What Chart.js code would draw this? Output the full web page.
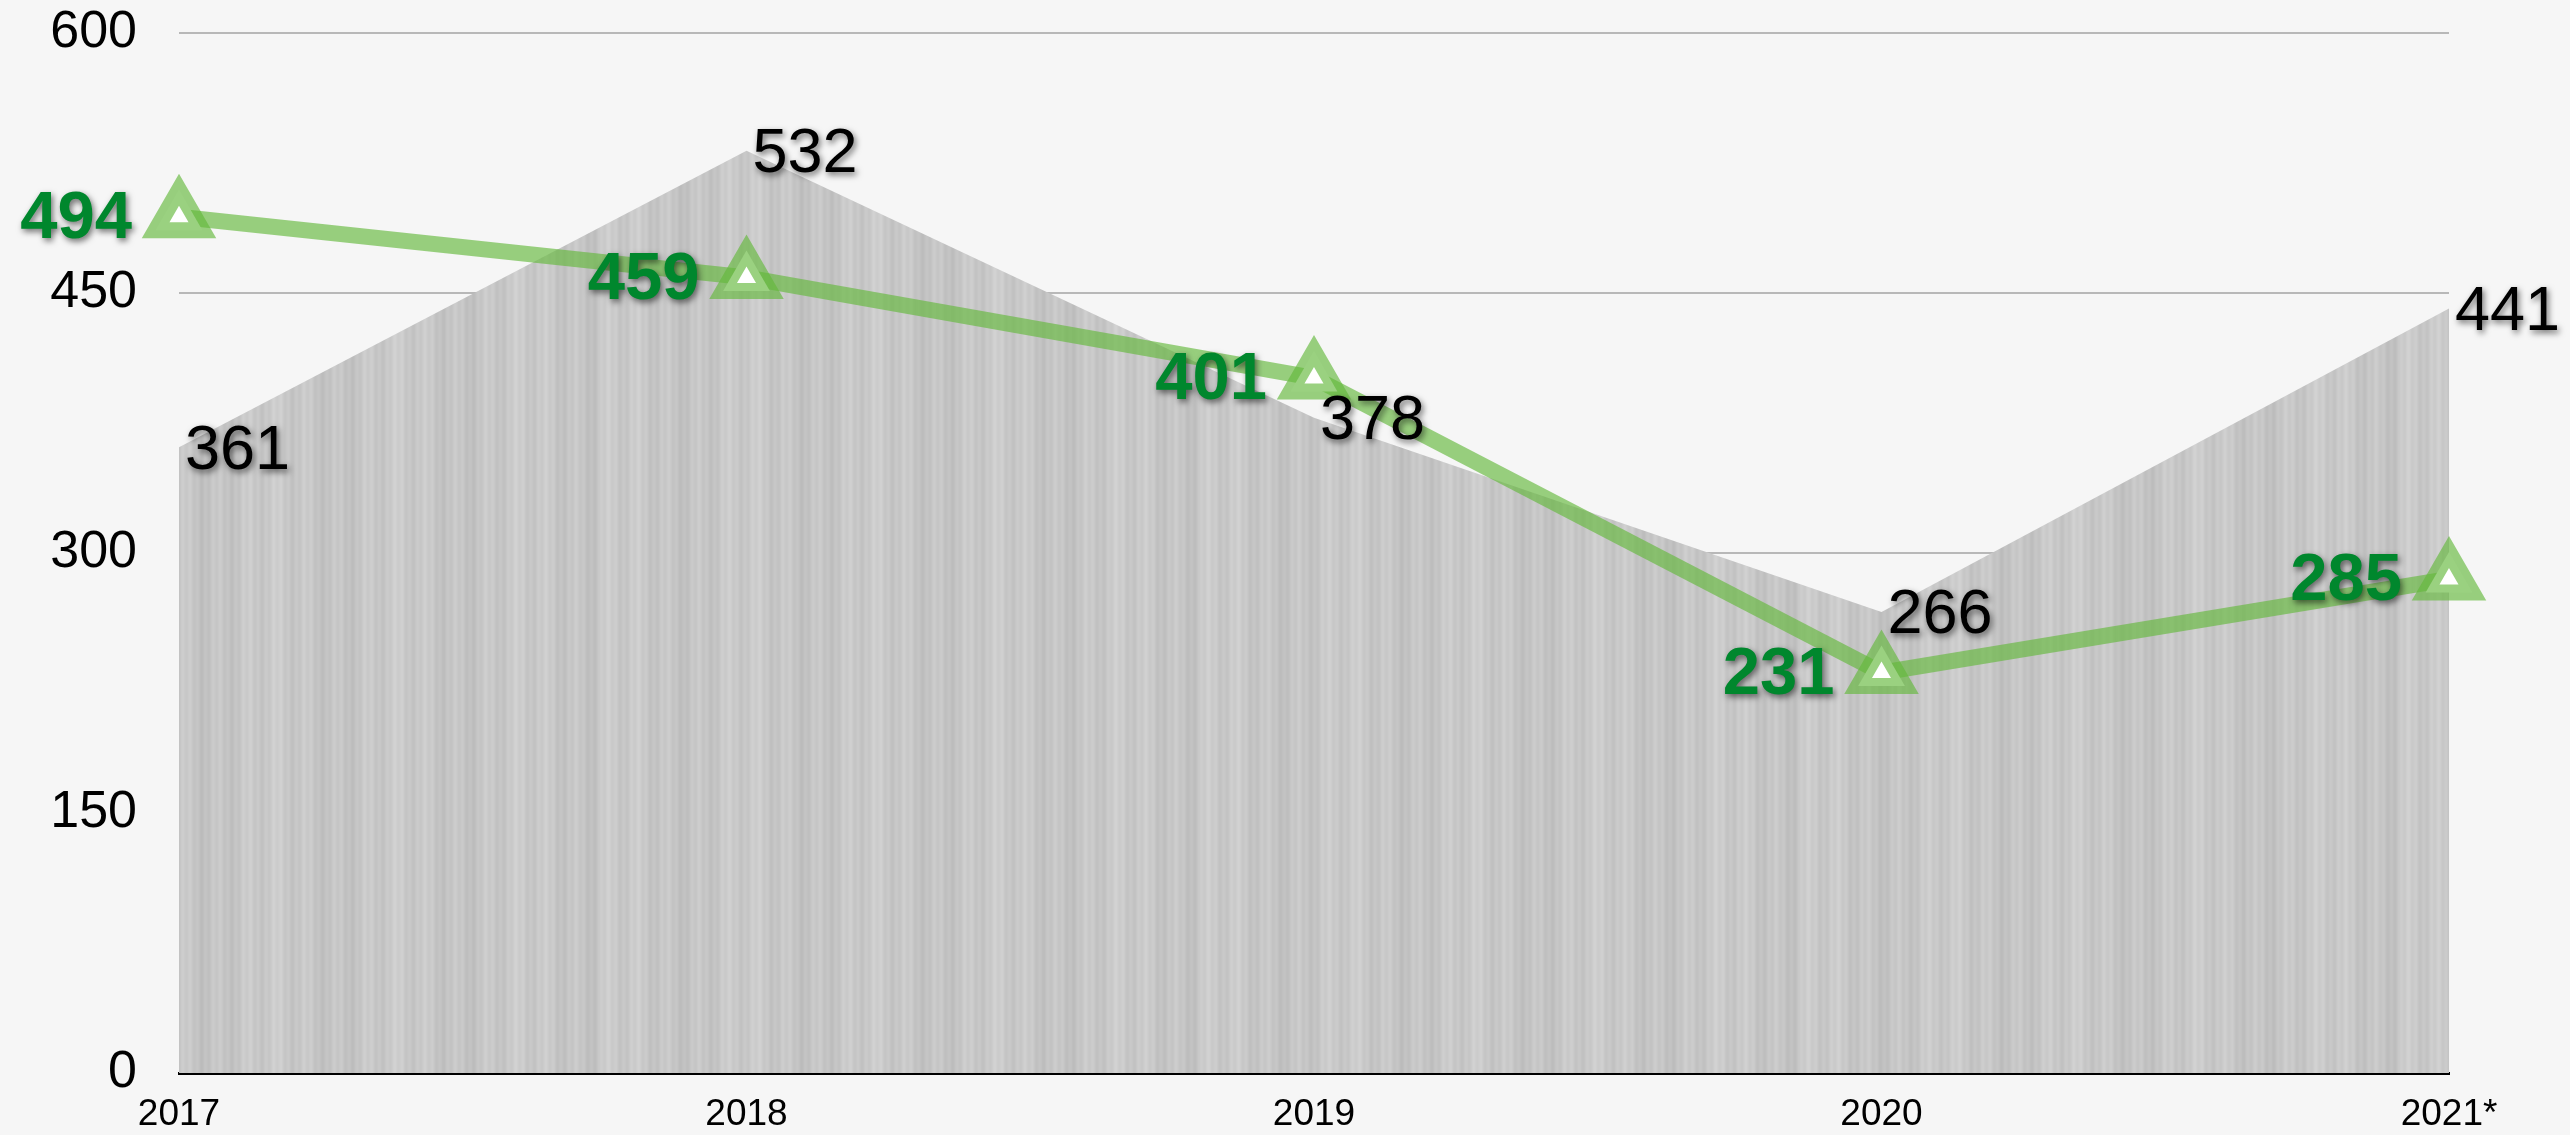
<!DOCTYPE html>
<html>
<head>
<meta charset="utf-8">
<script src="https://cdn.jsdelivr.net/npm/chart.js@4/dist/chart.umd.min.js"></script>
<style>
  body{margin:0;background:#f6f6f6;}
  #wrap{width:2570px;height:1135px;}
</style>
</head>
<body>
<div id="wrap"><canvas id="myCanvas" width="2570" height="1135"></canvas></div>
<script>
const years = ['2017','2018','2019','2020','2021*']
const grayValues = [361,532,378,266,441]
const greenValues = [494,459,401,231,285]
const yTicks = [0,150,300,450,600]

const fontFam = "'Helvetica Neue', Helvetica, 'Liberation Sans', Arial, sans-serif"

// brushed metal look for the area
function makeTexture(ctx){
  const c = document.createElement('canvas')
  c.width = 600
  c.height = 8
  const g = c.getContext('2d')
  for(let x = 0; x < c.width; x++){
    let v = 199 + 5*Math.sin(x*0.21) + 4*Math.sin(x*0.83+1.2) + 3*Math.sin(x*0.05+0.5)
    v = Math.round(v)
    g.fillStyle = `rgb(${v},${v},${v})`
    g.fillRect(x,0,1,c.height)
  }
  return ctx.createPattern(c,'repeat')
}

const labelPlugin = {
  id:'valueLabels',
  afterDatasetsDraw(chart){
    const ctx = chart.ctx
    ctx.save()
    ctx.shadowColor = 'rgba(0,0,0,0.55)'
    ctx.shadowBlur = 6
    ctx.shadowOffsetX = 2
    ctx.shadowOffsetY = 3
    ctx.textBaseline = 'middle'

    const grayMeta = chart.getDatasetMeta(1)
    ctx.font = '63px ' + fontFam
    ctx.fillStyle = '#000'
    ctx.textAlign = 'left'
    grayMeta.data.forEach((pt,i)=>{
      ctx.fillText(String(grayValues[i]), pt.x + 6, pt.y + 4)
    })

    const greenMeta = chart.getDatasetMeta(0)
    ctx.font = 'bold 67px ' + fontFam
    ctx.fillStyle = '#00872d'
    ctx.textAlign = 'right'
    greenMeta.data.forEach((pt,i)=>{
      ctx.fillText(String(greenValues[i]), pt.x - 47, pt.y + 3)
    })
    ctx.restore()
  }
}

const canv = document.getElementById('myCanvas')
const ctx = canv.getContext('2d')

const config = {
  type:'line',
  data:{
    labels:years,
    datasets:[{
      label:'green',
      data:greenValues,
      borderColor:'rgba(100,185,60,0.65)',
      borderWidth:16,
      tension:0,
      fill:false,
      pointStyle:'triangle',
      pointRadius:27,
      pointBorderWidth:16,
      pointBackgroundColor:'#ffffff',
      pointBorderColor:'rgba(100,185,60,0.65)',
      clip:false
    },{
      label:'gray',
      data:grayValues,
      borderWidth:0,
      borderColor:'rgba(0,0,0,0)',
      backgroundColor:makeTexture(ctx),
      fill:'origin',
      tension:0,
      pointRadius:0,
      clip:false
    }]
  },
  options:{
    responsive:false,
    animation:false,
    devicePixelRatio:1,
    layout:{autoPadding:false,padding:{top:33,right:121,left:0,bottom:0}},
    plugins:{legend:{display:false},tooltip:{enabled:false}},
    scales:{
      x:{
        grid:{display:false},
        border:{display:true,color:'#000',width:3},
        ticks:{color:'#000',font:{size:37,family:fontFam},padding:12,maxRotation:0},
        afterFit:(s)=>{
          s.height = 62
          s.paddingLeft = 0
          s.paddingRight = 0
        }
      },
      y:{
        min:0,
        max:600,
        afterBuildTicks:(s)=>{s.ticks = yTicks.map(v=>({value:v}))},
        grid:{color:'#b8b8b8',lineWidth:2,drawTicks:false},
        border:{display:false},
        ticks:{color:'#000',font:{size:52,family:fontFam},padding:42},
        afterFit:(s)=>{
          s.width = 179
          s.paddingTop = 0
          s.paddingBottom = 0
        }
      }
    }
  },
  plugins:[labelPlugin]
}

var myChart = new Chart(canv, config)
</script>
</body>
</html>
